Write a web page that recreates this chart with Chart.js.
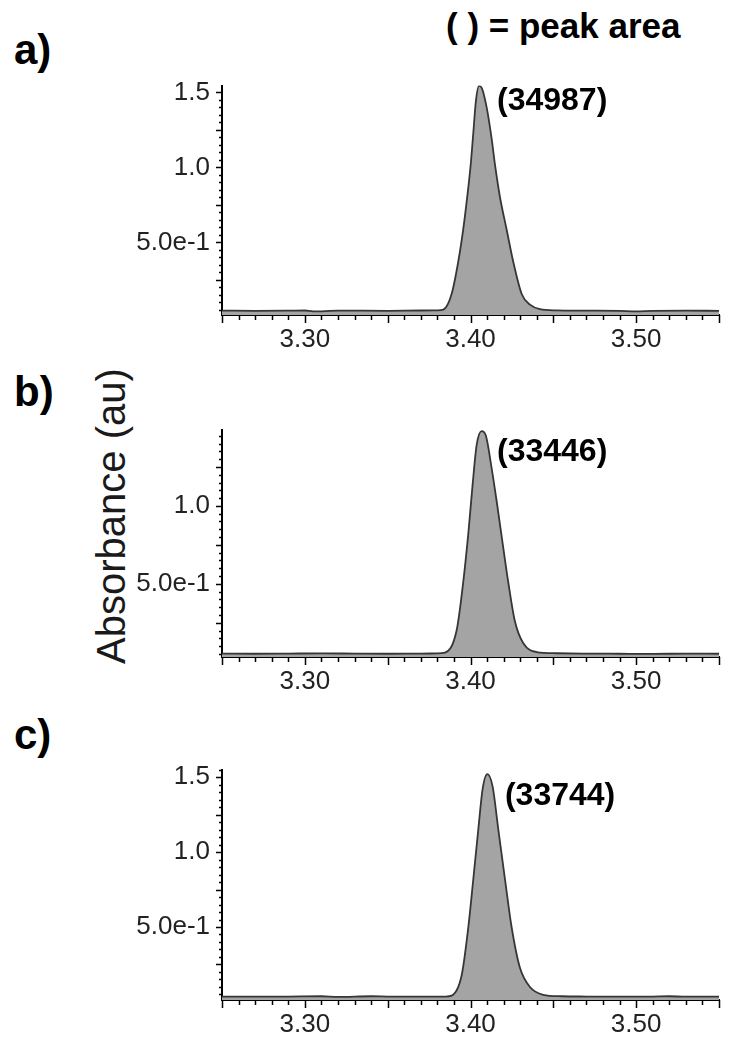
<!DOCTYPE html>
<html>
<head>
<meta charset="utf-8">
<script src="https://cdn.jsdelivr.net/npm/chart.js@4.4.1/dist/chart.umd.min.js"></script>
<style>
  html, body { margin: 0; padding: 0; background: #ffffff; }
  body { width: 735px; height: 1050px; position: relative; overflow: hidden; font-family: "Liberation Sans", Arial, sans-serif; }
  canvas { position: absolute; left: 0; }
  .txt { position: absolute; white-space: nowrap; color: #000; line-height: 1; }
</style>
</head>
<body>
<div class="txt" id="title" style="left:446px; top:8px; font-size:35px; font-weight:bold;">( ) = peak area</div>
<div class="txt" style="left:14px; top:29px; font-size:42px; font-weight:bold;">a)</div>
<div class="txt" style="left:14px; top:371px; font-size:42px; font-weight:bold;">b)</div>
<div class="txt" style="left:14px; top:714px; font-size:42px; font-weight:bold;">c)</div>
<div class="txt" id="ytitle" style="left:-89px; top:496px; width:400px; text-align:center; font-size:40px; line-height:40px; color:#1a1a1a; transform:rotate(-90deg); transform-origin:200px 20px;">Absorbance (au)</div>

<canvas id="cA" width="735" height="302" style="top:58px"></canvas>
<canvas id="cB" width="735" height="300" style="top:402px"></canvas>
<canvas id="cC" width="735" height="303" style="top:742px"></canvas>

<script>
// ---- tick labels ----
const xTickValues = [3.30, 3.40, 3.50];
const xTickLabels = ['3.30', '3.40', '3.50'];
const yTickValues = [0.5, 1.0, 1.5];
const yTickLabels = ['5.0e-1', '1.0', '1.5'];
const xRange = [3.25, 3.55];

// ---- panel a (peak area 34987) ----
const timeA = [3.25, 3.27, 3.29, 3.30, 3.305, 3.32, 3.35, 3.37, 3.38,
  3.3836, 3.3886, 3.3926, 3.3956, 3.398, 3.4001, 3.4017, 3.4033, 3.4051, 3.4067,
  3.4097, 3.4128, 3.4148, 3.4178, 3.4218, 3.4258, 3.4309, 3.4359, 3.4419, 3.452,
  3.47, 3.49, 3.50, 3.51, 3.53, 3.55];
const absA = [0.045, 0.044, 0.045, 0.046, 0.040, 0.045, 0.044, 0.046, 0.047,
  0.052, 0.156, 0.371, 0.586, 0.801, 1.016, 1.231, 1.446, 1.543, 1.532,
  1.403, 1.188, 1.016, 0.801, 0.586, 0.371, 0.156, 0.085, 0.055, 0.047,
  0.045, 0.043, 0.040, 0.044, 0.045, 0.044];
const areaA = '(34987)';
const noteA = [3.416, 1.442];
const yRangeA = [0.016, 1.545];

// ---- panel b (peak area 33446) ----
const timeB = [3.25, 3.27, 3.29, 3.31, 3.33, 3.35, 3.37, 3.38,
  3.3846, 3.3916, 3.3956, 3.3987, 3.4013, 3.4037, 3.4067, 3.4093, 3.4128, 3.4158,
  3.4194, 3.4228, 3.4268, 3.4318, 3.4399, 3.452,
  3.47, 3.49, 3.51, 3.53, 3.55];
const absB = [0.052, 0.051, 0.052, 0.053, 0.052, 0.051, 0.052, 0.053,
  0.058, 0.20, 0.51, 0.825, 1.14, 1.39, 1.48, 1.45, 1.24, 1.03,
  0.76, 0.51, 0.26, 0.12, 0.062, 0.054,
  0.052, 0.051, 0.050, 0.052, 0.051];
const areaB = '(33446)';
const noteB = [3.416, 1.344];
const yRangeB = [0.03, 1.49];

// ---- panel c (peak area 33744) ----
const timeC = [3.25, 3.27, 3.29, 3.31, 3.32, 3.34, 3.35, 3.37, 3.385,
  3.3886, 3.3947, 3.3987, 3.4017, 3.4047, 3.4073, 3.4101, 3.4133, 3.4168,
  3.4208, 3.4248, 3.4298, 3.4359, 3.4439, 3.455,
  3.47, 3.49, 3.51, 3.52, 3.53, 3.55];
const absC = [0.036, 0.035, 0.036, 0.038, 0.034, 0.038, 0.036, 0.035, 0.036,
  0.042, 0.18, 0.50, 0.82, 1.15, 1.42, 1.52, 1.44, 1.15,
  0.82, 0.50, 0.23, 0.10, 0.048, 0.038,
  0.036, 0.035, 0.036, 0.038, 0.035, 0.035];
const areaC = '(33744)';
const noteC = [3.4208, 1.372];
const yRangeC = [0.013, 1.55];

// ---- styling ----
const FONT = '"Liberation Sans", Arial, sans-serif';
const xMinorStep = 0.01;
const yMinorStep = 0.05;

function labelFor(values, labels, v) {
  for (let i = 0; i < values.length; i++) {
    if (Math.abs(values[i] - v) < 1e-9) return labels[i];
  }
  return '';
}

const minorTicks = {
  id: 'minorTicks',
  afterDraw(chart) {
    const ctx = chart.ctx;
    const xs = chart.scales.x, ys = chart.scales.y;
    const area = chart.chartArea;
    ctx.save();
    ctx.strokeStyle = '#000';
    ctx.lineWidth = 1.5;
    ctx.beginPath();
    const nx = Math.round((xs.max - xs.min) / xMinorStep);
    for (let k = 0; k <= nx; k++) {
      const v = xs.min + k * xMinorStep;
      const px = Math.round(xs.getPixelForValue(v)) + 0.5;
      const len = (k % 5 === 0) ? 8 : 5;
      ctx.moveTo(px, area.bottom);
      ctx.lineTo(px, area.bottom + len);
    }
    const kStart = Math.ceil(ys.min / yMinorStep);
    const kEnd = Math.floor(ys.max / yMinorStep + 1e-9);
    for (let k = kStart; k <= kEnd; k++) {
      const v = k * yMinorStep;
      const py = Math.round(ys.getPixelForValue(v)) + 0.5;
      const len = (k % 5 === 0) ? 6 : 3;
      ctx.moveTo(area.left, py);
      ctx.lineTo(area.left - len, py);
    }
    ctx.stroke();
    ctx.restore();
  }
};

const peakNote = {
  id: 'peakNote',
  afterDatasetsDraw(chart, args, opts) {
    const ctx = chart.ctx;
    const px = chart.scales.x.getPixelForValue(opts.at[0]);
    const py = chart.scales.y.getPixelForValue(opts.at[1]);
    ctx.save();
    ctx.fillStyle = '#000';
    ctx.font = 'bold 32px ' + FONT;
    ctx.textAlign = 'left';
    ctx.textBaseline = 'middle';
    ctx.fillText(opts.text, px, py);
    ctx.restore();
  }
};

function makeChart(id, times, abs, yRange, text, at) {
  const pts = times.map((t, i) => ({ x: t, y: abs[i] }));
  return new Chart(document.getElementById(id), {
    type: 'line',
    data: {
      datasets: [{
        data: pts,
        borderColor: '#363636',
        backgroundColor: '#a4a4a4',
        borderWidth: 1.8,
        fill: 'start',
        pointRadius: 0,
        cubicInterpolationMode: 'monotone'
      }]
    },
    options: {
      responsive: false,
      animation: false,
      devicePixelRatio: 1,
      layout: { padding: { top: 20, right: 16, left: 0, bottom: 0 } },
      plugins: {
        legend: { display: false },
        tooltip: { enabled: false },
        peakNote: { text: text, at: at }
      },
      scales: {
        x: {
          type: 'linear',
          min: xRange[0],
          max: xRange[1],
          afterBuildTicks: s => { s.ticks = xTickValues.map(v => ({ value: v })); },
          afterFit: s => { s.height = 45; },
          ticks: {
            autoSkip: false,
            maxRotation: 0,
            padding: 9,
            color: '#222',
            font: { family: FONT, size: 26 },
            callback: v => labelFor(xTickValues, xTickLabels, v)
          },
          grid: { display: false, drawTicks: false },
          border: { display: true, color: '#000', width: 2 }
        },
        y: {
          type: 'linear',
          min: yRange[0],
          max: yRange[1],
          afterBuildTicks: s => { s.ticks = yTickValues.filter(v => v >= s.min && v <= s.max).map(v => ({ value: v })); },
          afterFit: s => { s.width = 222; },
          ticks: {
            autoSkip: false,
            padding: 12,
            color: '#222',
            font: { family: FONT, size: 26 },
            callback: v => labelFor(yTickValues, yTickLabels, v)
          },
          grid: { display: false, drawTicks: false },
          border: { display: true, color: '#000', width: 2 }
        }
      }
    },
    plugins: [minorTicks, peakNote]
  });
}

makeChart('cA', timeA, absA, yRangeA, areaA, noteA);
makeChart('cB', timeB, absB, yRangeB, areaB, noteB);
makeChart('cC', timeC, absC, yRangeC, areaC, noteC);
</script>
</body>
</html>
